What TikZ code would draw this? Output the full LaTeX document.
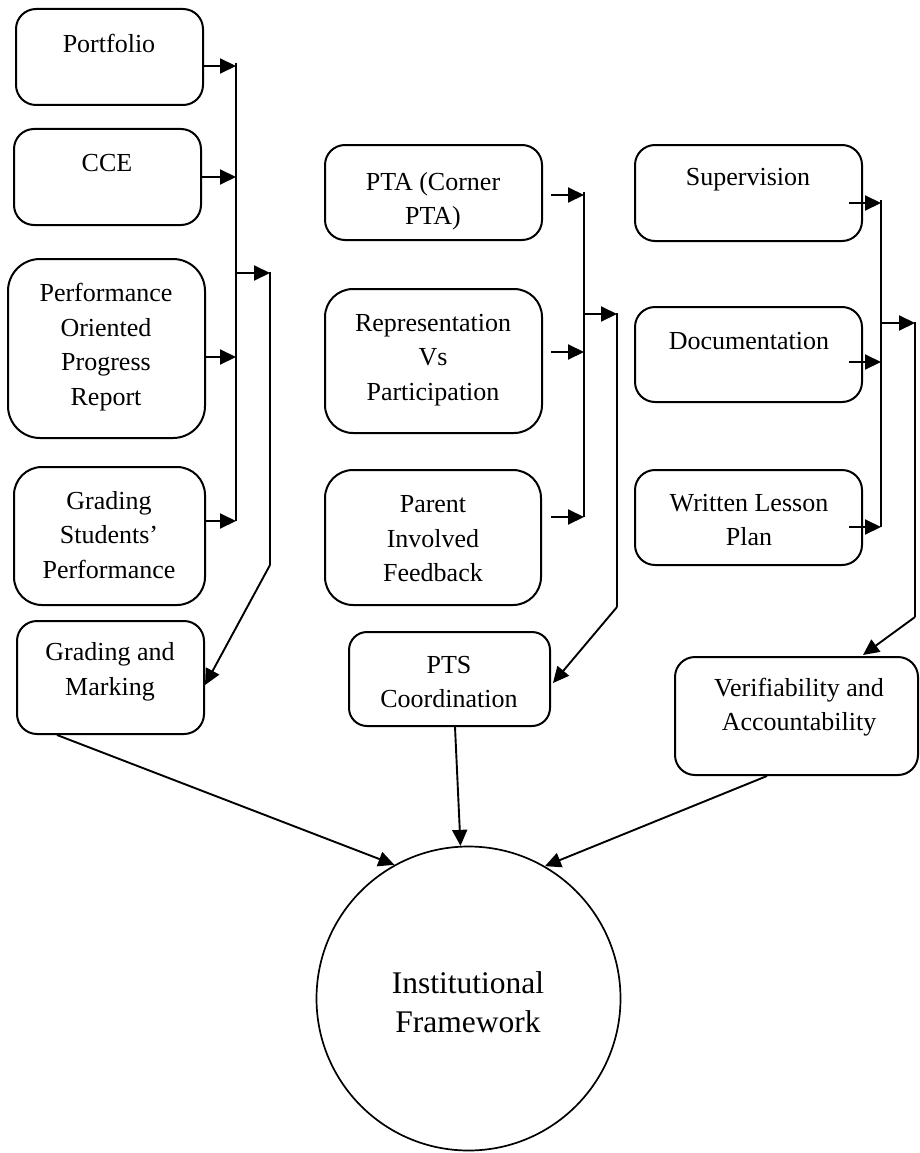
\documentclass[tikz,border=0pt]{standalone}
\usepackage{fontspec}
\setmainfont{Liberation Serif}
\usetikzlibrary{arrows.meta}
\begin{document}
\begin{tikzpicture}[x=1pt,y=-1pt,
  box/.style={draw, line width=2pt, rounded corners=20pt, inner sep=0pt},
  lbl/.style={align=center, inner sep=0pt, font=\fontsize{26}{34.5}\selectfont},
  big/.style={align=center, inner sep=0pt, font=\fontsize{31.5}{38.5}\selectfont},
  bus/.style={line width=2pt},
  bus2/.style={line width=1.5pt},
  arr/.style={line width=2pt, -{Triangle[length=16pt,width=15pt]}},
  darr/.style={line width=1.9pt, -{Triangle[length=16pt,width=15pt]}}]
\useasboundingbox (0,0) rectangle (920,1153);

% ---- left column: assessment ----
\node[box, minimum width=187pt, minimum height=96pt] (port) at (109.5,57) {};
\node[box, minimum width=187pt, minimum height=96pt] (cce) at (107.5,177) {};
\node[box, rounded corners=32pt, minimum width=197pt, minimum height=179pt] (perf) at (106.5,348.5) {};
\node[box, rounded corners=28pt, minimum width=191pt, minimum height=138pt] (gsp) at (109.5,536) {};
\node[box, minimum width=187pt, minimum height=113pt] (gm) at (110.5,677.5) {};

\node[lbl] (port-t) at (109,43) {Portfolio};
\node[lbl] (cce-t) at (107,163) {CCE};
\node[lbl] (perf-t) at (106,347) {Performance\\Oriented\\Progress\\Report};
\node[lbl] (gsp-t) at (109,535) {Grading\\Students’\\Performance};
\node[lbl] (gm-t) at (110,672) {Grading and\\Marking};

% ---- middle column: parents ----
\node[box, minimum width=217pt, minimum height=95pt] (pta) at (433.5,192.5) {};
\node[box, rounded corners=28pt, minimum width=217pt, minimum height=144pt] (rep) at (433.5,361) {};
\node[box, rounded corners=28pt, minimum width=216pt, minimum height=135pt] (par) at (433,537.5) {};
\node[box, rounded corners=18pt, minimum width=201pt, minimum height=94pt] (pts) at (449.5,679) {};

\node[lbl] (pta-t) at (433,201) {PTA (Corner\\PTA)};
\node[lbl] (rep-t) at (433,360) {Representation\\Vs\\Participation};
\node[lbl] (par-t) at (433,539) {Parent\\Involved\\Feedback};
\node[lbl] (pts-t) at (449,682) {PTS\\Coordination};

% ---- right column: teaching records ----
\node[box, minimum width=227pt, minimum height=96pt] (sup) at (748.5,193) {};
\node[box, minimum width=227pt, minimum height=95pt] (doc) at (748.5,354.5) {};
\node[box, minimum width=227pt, minimum height=95pt] (wlp) at (748.5,517.5) {};
\node[box, minimum width=243pt, minimum height=118pt] (ver) at (796.5,716) {};

\node[lbl] (sup-t) at (748,180) {Supervision};
\node[lbl] (doc-t) at (749,341) {Documentation};
\node[lbl] (wlp-t) at (749,520) {Written Lesson\\Plan};
\node[lbl] (ver-t) at (799,707) {Verifiability and\\Accountability};

% ---- centre ----
\node[draw, circle, line width=1.7pt, minimum size=304pt, inner sep=0pt] (circ) at (468.5,998.5) {};
\node[big] (circ-t) at (468,1002) {Institutional\\Framework};

% ---- left bus ----
\coordinate (a1) at (236,66);
\coordinate (a2) at (236,177);
\coordinate (a3) at (236,357);
\coordinate (a4) at (236,521);
\coordinate (a0) at (236,63);
\coordinate (ab) at (236,273);
\coordinate (ac) at (270,273);
\coordinate (ad) at (270,565);
\draw[bus] (a0) -- (a4);
\draw[arr] (port.east |- a1) -- (a1);
\draw[arr] (cce.east |- a2) -- (a2);
\draw[arr] (perf.east |- a3) -- (a3);
\draw[arr] (gsp.east |- a4) -- (a4);
\draw[arr] (ab) -- (ac);
\draw[bus2] ([yshift=1pt]ac) -- (ad);
\draw[darr] (ad) -- ([yshift=-7.5pt]gm.east);

% ---- middle bus ----
\coordinate (b1) at (584,195);
\coordinate (b2) at (584,352);
\coordinate (b3) at (584,517);
\coordinate (b0) at (584,192);
\coordinate (bb) at (584,314);
\coordinate (bc) at (617,314);
\coordinate (bd) at (617,607);
\draw[bus2] (b0) -- (b3);
\draw[arr] ([xshift=8pt]pta.east |- b1) -- (b1);
\draw[arr] ([xshift=8pt]rep.east |- b2) -- (b2);
\draw[arr] ([xshift=9pt]par.east |- b3) -- (b3);
\draw[arr] (bb) -- (bc);
\draw[bus] ([yshift=1pt]bc) -- (bd);
\draw[darr] (bd) -- ([xshift=2pt,yshift=-4pt]pts.east);

% ---- right bus ----
\coordinate (c1) at (881,203);
\coordinate (c2) at (881,362);
\coordinate (c3) at (881,527);
\coordinate (c0) at (881,200);
\coordinate (cb) at (881,323);
\coordinate (cc) at (915,323);
\coordinate (cd) at (915,617);
\draw[bus] (c0) -- (c3);
\draw[arr] ([xshift=-14pt]sup.east |- c1) -- (c1);
\draw[arr] ([xshift=-14pt]doc.east |- c2) -- (c2);
\draw[arr] ([xshift=-14pt]wlp.east |- c3) -- (c3);
\draw[arr] (cb) -- (cc);
\draw[bus] ([yshift=1pt]cc) -- (cd);
\draw[darr] (cd) -- ([xshift=66.5pt,yshift=1pt]ver.north);

% ---- into the framework ----
\draw[darr] ([xshift=-53.5pt]gm.south) -- (circ.119.5);
\draw[darr] ([xshift=5.5pt]pts.south) -- (circ.93.2);
\draw[darr] ([xshift=-29.5pt]ver.south) -- (circ.60.5);
\end{tikzpicture}
\end{document}
